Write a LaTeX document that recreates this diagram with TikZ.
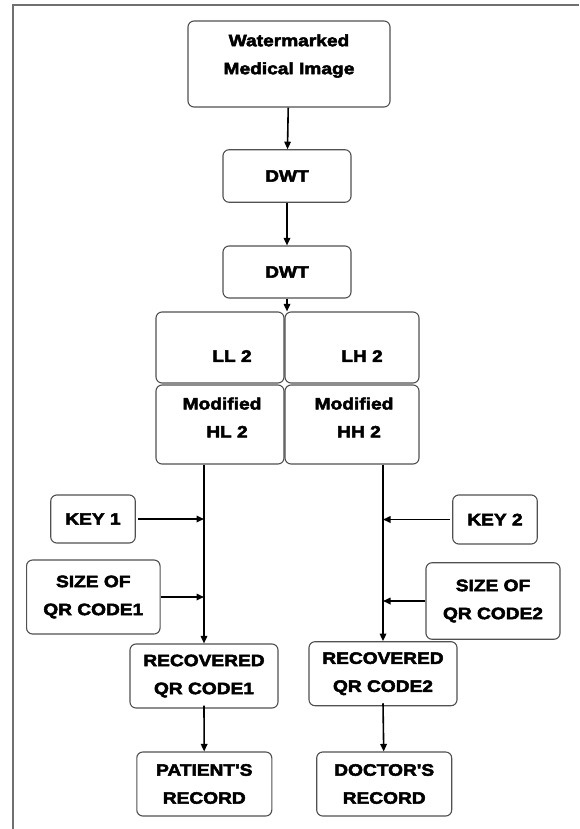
\documentclass[tikz,border=0pt]{standalone}
\usepackage{fontspec}
\setmainfont{Liberation Sans}
\newfontfamily\bfont{Liberation Sans Bold}[FakeStretch=1.16,FakeBold=3]
\usetikzlibrary{arrows.meta}
\definecolor{framegray}{HTML}{707070}
\definecolor{boxgray}{HTML}{505050}
\begin{document}
\begin{tikzpicture}[x=1pt,y=-1pt,
  box/.style={draw=boxgray, line width=1.1pt, rounded corners=6pt, inner sep=0pt,
    font=\bfont\fontsize{16.5}{28}\selectfont, align=center, text=black},
  lbl/.style={font=\bfont\fontsize{16.5}{28}\selectfont, align=center, text=black},
  arr/.style={-{Triangle[length=7.5pt,width=6.5pt]}, line width=1.6pt, black}]
\useasboundingbox (0,0) rectangle (579,829);
\draw[framegray, line width=2pt] (579,5.5) -- (13.3,5.5) -- (13.3,829);

\node[box, minimum width=202pt, minimum height=86pt,
  label={[lbl,yshift=8pt]center:Watermarked\\Medical Image}] (wm) at (289,64) {};
\node[box, minimum width=128pt, minimum height=52.5pt] (dwt1) at (287,176) {DWT};
\node[box, minimum width=128pt, minimum height=52pt] (dwt2) at (287,272) {DWT};

\node[box, minimum width=128pt, minimum height=71pt,
  label={[lbl,xshift=12pt,yshift=-8.5pt]center:LL 2}] (ll) at (220,347.5) {};
\node[box, minimum width=134pt, minimum height=71pt,
  label={[lbl,xshift=10pt,yshift=-8.5pt]center:LH 2}] (lh) at (352,347.5) {};
\node[box, minimum width=128pt, minimum height=79pt,
  label={[lbl,xshift=2pt,yshift=7pt]center:Modified\\\hspace*{10pt}HL 2}] (hl) at (220,424.5) {};
\node[box, minimum width=134pt, minimum height=79pt,
  label={[lbl,xshift=2pt,yshift=7pt]center:Modified\\\hspace*{10pt}HH 2}] (hh) at (352,424.5) {};

\node[box, minimum width=84.5pt, minimum height=48pt] (key1) at (93,519) {KEY 1};
\node[box, minimum width=133.5pt, minimum height=74pt] (size1) at (93.3,597) {SIZE OF\\QR CODE1};
\node[box, minimum width=84.5pt, minimum height=49pt] (key2) at (495,519.5) {KEY 2};
\node[box, minimum width=134pt, minimum height=76.5pt] (size2) at (493,601) {SIZE OF\\QR CODE2};

\node[box, minimum width=148pt, minimum height=64pt] (rec1) at (204,676) {RECOVERED\\QR CODE1};
\node[box, minimum width=148pt, minimum height=64pt] (rec2) at (383,673.7) {RECOVERED\\QR CODE2};
\node[box, minimum width=135pt, minimum height=64pt] (pat) at (204.3,784) {PATIENT'S\\RECORD};
\node[box, minimum width=135pt, minimum height=64pt] (doc) at (384.2,784) {DOCTOR'S\\RECORD};

\draw[arr] (wm) -- (dwt1);
\draw[arr] (dwt1) -- (dwt2);
\draw[arr] (dwt2) -- (dwt2.south |- ll.north);
\draw[arr] (rec1.north |- hl.south) -- (rec1.north);
\draw[arr] (rec2.north |- hh.south) -- (rec2.north);
\draw[arr] ([xshift=2pt]key1.east) -- (key1.east -| rec1.north);
\draw[arr] (size1.east) -- (size1.east -| rec1.north);
\draw[arr] ([xshift=-2pt]key2.west) -- (key2.west -| rec2.north);
\draw[arr] (size2.west) -- (size2.west -| rec2.north);
\draw[arr] ([yshift=3pt]rec1.south) -- (pat);
\draw[arr] ([yshift=3pt]rec2.south) -- (doc);
\end{tikzpicture}
\end{document}
